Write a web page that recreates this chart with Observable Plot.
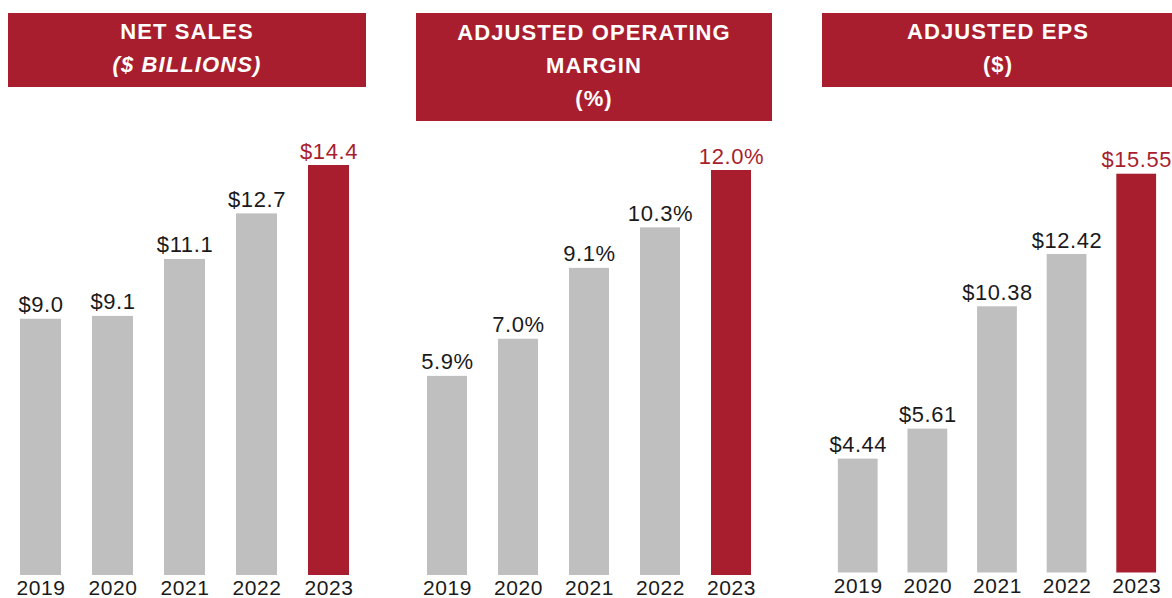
<!DOCTYPE html>
<html>
<head>
<meta charset="utf-8">
<script src="https://cdn.jsdelivr.net/npm/d3@7"></script>
<script src="https://cdn.jsdelivr.net/npm/@observablehq/plot@0.6"></script>
<style>
  html, body { margin: 0; padding: 0; background: #fff; width: 1172px; height: 598px; overflow: hidden; }
  .panel { position: absolute; top: 120px; }
  .hdr { position: absolute; top: 13px; background: #A81E2E; color: #fff; display: flex; flex-direction: column; justify-content: center; align-items: center;
         font-family: "Liberation Sans", Arial, sans-serif; font-weight: bold; font-size: 22px; line-height: 33px; letter-spacing: 1.1px; text-align: center;
         box-sizing: border-box; padding-bottom: 4px; }
  .hdr i { font-style: italic; }
</style>
</head>
<body>
<div class="hdr" style="left:8px;width:358px;height:74px;"><div>NET SALES</div><div><i>($ BILLIONS)</i></div></div>
<div class="hdr" style="left:416px;width:356px;height:108px;"><div>ADJUSTED OPERATING</div><div>MARGIN</div><div>(%)</div></div>
<div class="hdr" style="left:822px;width:352px;height:74px;"><div>ADJUSTED EPS</div><div>($)</div></div>
<div id="p1" class="panel" style="left:0px"></div>
<div id="p2" class="panel" style="left:400px"></div>
<div id="p3" class="panel" style="left:810px"></div>
<script>
const years = ["2019", "2020", "2021", "2022", "2023"];
const netSales = [9.0, 9.1, 11.1, 12.7, 14.4];
const opMargin = [5.9, 7.0, 9.1, 10.3, 12.0];
const adjEps = [4.44, 5.61, 10.38, 12.42, 15.55];
const highlightYear = "2023";

const RED = "#A81E2E";
const GRAY = "#BFBFBF";
const FONT = "'Liberation Sans', Arial, sans-serif";

function panel(el, values, fmt, opts) {
  const data = years.map((year, i) => ({year, value: values[i]}));
  const chart = Plot.plot({
    width: opts.width,
    height: 490,
    marginTop: opts.marginTop,
    marginBottom: 35,
    marginLeft: opts.marginLeft,
    marginRight: opts.marginRight,
    x: {domain: years, paddingInner: opts.pi, paddingOuter: opts.pi / 2, axis: null},
    y: {axis: null},
    color: {type: "identity"},
    style: {fontFamily: FONT, overflow: "visible", background: "transparent"},
    marks: [
      Plot.barY(data, {x: "year", y: "value", fill: d => d.year === highlightYear ? RED : GRAY}),
      Plot.text(data, {
        x: "year", y: "value", text: d => fmt(d.value),
        dy: -7, lineAnchor: "bottom", fontSize: 22,
        fill: d => d.year === highlightYear ? RED : "#1a1a1a"
      }),
      Plot.axisX({tickSize: 0, tickPadding: 5, fontSize: 21, label: null, color: "#1a1a1a"})
    ]
  });
  chart.style.letterSpacing = "0.6px";
  document.getElementById(el).appendChild(chart);
}

panel("p1", netSales, v => "$" + v.toFixed(1), {width: 370, marginTop: 45, marginLeft: 4.5, marginRight: 5.5, pi: 0.43});
panel("p2", opMargin, v => v.toFixed(1) + "%", {width: 380, marginTop: 50, marginLeft: 10.3, marginRight: 13.4, pi: 0.44});
panel("p3", adjEps, v => "$" + v.toFixed(2), {width: 364, marginTop: 54, marginLeft: 13, marginRight: 1, pi: 0.43});
</script>
</body>
</html>
